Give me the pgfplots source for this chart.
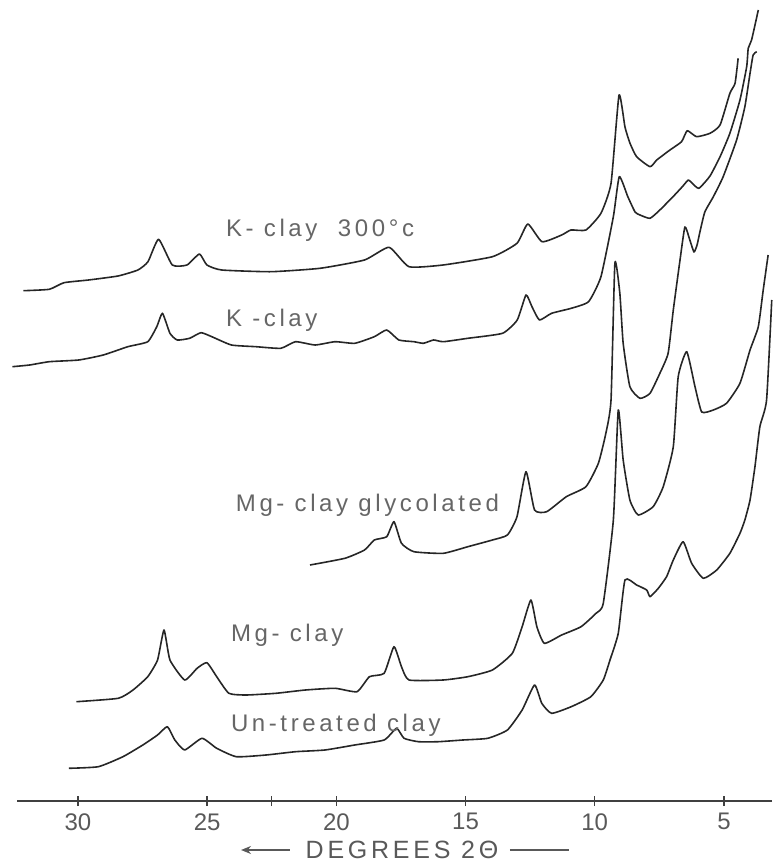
\documentclass[border=0pt]{standalone}
\usepackage{pgfplots}
\pgfplotsset{compat=1.18}
\usepackage{fontspec}
\setmainfont{Liberation Sans}
\newfontfamily\lab[LetterSpace=15]{Liberation Sans}
\usetikzlibrary{arrows.meta}
\begin{document}
\begin{tikzpicture}
\useasboundingbox (-8.5pt,-33pt) rectangle (377.5pt,400.5pt);
\begin{axis}[
 scale only axis, width=377.5pt, height=400.5pt,
 at={(0,0)}, anchor=south west,
 xmin=3.14, xmax=32.36, x dir=reverse,
 ymin=0, ymax=801,
 clip=false,
 hide y axis,
 axis x line*=bottom,
 x axis line style={-, line width=0.7pt, draw=black!75},
 xtick={5,10,15,20,22.5,25,30},
 xticklabels={5,10,15,20,,25,30},
 xtick align=center,
 major tick length=5pt,
 xtick style={line width=0.7pt, draw=black!75},
 xticklabel style={font=\fontsize{12}{12}\selectfont, text=black!65, anchor=north, inner sep=0pt, yshift=-3.5pt},
 curve/.style={line width=0.8pt, draw=black!85, line join=round, smooth, tension=0.3, mark=none},
]
% K-clay 300 C
\addplot[curve] coordinates {(32.11,510.3) (31.11,511.7) (30.54,518.3) (29.59,521) (28.45,525) (27.68,531) (27.29,539.3) (26.88,561.7) (26.35,536) (25.78,536) (25.30,547) (25.01,536) (24.44,531) (22.53,529.3) (20.63,532.7) (18.91,541) (17.96,553.7) (17.19,534.3) (15.87,536) (13.96,544.3) (13.01,557.7) (12.59,577) (12.04,559.3) (11.28,566) (10.92,571) (10.34,571) (9.76,587.7) (9.37,617.7) (9.06,706) (8.83,674) (8.64,658) (8.38,644.3) (7.86,634.3) (7.60,641) (7.09,651) (6.64,659.3) (6.42,670.3) (6.06,664.3) (5.54,667.7) (5.15,676) (4.77,707.7) (4.57,717.7) (4.45,742.7)};
% K-clay
\addplot[curve] coordinates {(32.54,434.3) (31.87,436) (31.11,439.3) (29.97,441) (29.02,446) (28.07,454.3) (27.30,459.3) (26.95,474.3) (26.73,487.7) (26.44,467.7) (26.16,461) (25.68,462.7) (25.24,468.3) (24.82,464.3) (24.06,456) (23.11,454.3) (22.15,452.7) (21.58,459.3) (20.82,456) (20.05,459.3) (19.29,457.7) (18.53,464.3) (18.05,471) (17.58,461) (17.00,459.3) (16.63,457.7) (16.24,461) (15.86,459.3) (14.91,462.7) (13.57,467.7) (13.00,481) (12.66,506) (12.43,494.3) (12.14,481) (11.67,487.7) (10.91,492.7) (10.24,499.3) (9.76,524.3) (9.28,584.3) (9.05,624.3) (8.72,604.3) (8.44,589) (8.25,586) (7.86,582.7) (7.48,591) (6.97,604.3) (6.61,614.3) (6.38,621) (6.24,618) (5.97,612.7) (5.54,625) (5.15,644.3) (4.77,667.7) (4.38,701) (4.12,734.3) (4.06,752.7) (3.93,761) (3.67,791)};
% Mg-clay glycolated
\addplot[curve] coordinates {(21.02,236) (19.67,242.7) (18.91,251) (18.53,261) (18.05,264.3) (17.77,279.3) (17.48,257.7) (17.00,249.3) (15.86,247.7) (14.91,254.3) (13.96,261) (13.38,266) (13.01,284.3) (12.66,329.3) (12.33,291) (11.86,289.3) (11.10,304.3) (10.34,314.3) (9.86,337.7) (9.57,367.7) (9.37,401) (9.22,538) (9.03,508) (8.90,457.7) (8.64,414.3) (8.25,402.7) (7.86,407.7) (7.48,427.7) (7.16,447.7) (6.96,491) (6.70,541) (6.51,574) (6.32,561) (6.16,549) (6.04,556) (5.93,569) (5.74,589) (5.41,604.3) (5.03,624.3) (4.51,661) (4.19,694.3) (3.99,727.7) (3.87,746) (3.73,749.3)};
% Mg-clay
\addplot[curve] coordinates {(30.06,99.3) (28.44,102.7) (27.87,111) (27.30,124.3) (26.92,141) (26.67,171) (26.44,141) (25.87,121) (25.39,132.7) (25.01,138.3) (24.63,124.3) (24.16,107.7) (23.49,106) (22.34,107.7) (21.20,111) (20.05,112.7) (19.20,109.3) (18.72,124.3) (18.15,127.7) (17.77,154.3) (17.48,134.3) (17.19,121) (15.86,121) (14.91,124.3) (13.96,131) (13.19,147.7) (12.81,174.3) (12.47,201) (12.24,174.3) (11.95,157.7) (11.28,166) (10.53,174.3) (9.95,187.7) (9.67,197.7) (9.28,281) (9.09,391) (8.90,341) (8.64,301) (8.32,286) (7.74,294.3) (7.35,314.3) (6.96,354.3) (6.77,424.3) (6.44,449.3) (6.12,414.3) (5.86,389) (5.41,391) (4.90,397.7) (4.38,417.7) (3.99,451) (3.67,474.3) (3.48,511) (3.29,546)};
% Un-treated clay
\addplot[curve] coordinates {(30.35,32.7) (29.21,34.3) (28.26,44.3) (27.49,56) (26.92,66) (26.54,74.3) (26.25,61) (25.87,51) (25.20,62.7) (24.63,52.7) (23.87,44.3) (22.72,46) (21.58,49.3) (20.44,51) (19.29,56) (18.15,61) (17.67,72.7) (17.38,62.7) (16.82,59.3) (16.05,59.3) (15.10,61) (14.14,62.7) (13.38,71) (12.81,91) (12.33,116) (12.05,97.7) (11.67,87.7) (10.91,94.3) (10.15,104.3) (9.67,121) (9.41,141) (9.09,167.7) (8.83,221) (8.38,216) (7.99,211) (7.86,204.3) (7.54,212.7) (7.22,224.3) (6.96,241) (6.58,259.3) (6.25,237.7) (5.80,222.7) (5.28,231) (4.77,247.7) (4.38,267.7) (4.19,281) (3.99,301) (3.80,334.3) (3.61,374.3) (3.35,401) (3.15,501)};
% labels
\node[anchor=west, font=\lab\fontsize{12}{12}\selectfont, text=black!60] at (axis cs:24.54,571) {K- clay\ \ 300°c};
\node[anchor=west, font=\lab\fontsize{12}{12}\selectfont, text=black!60] at (axis cs:24.54,481) {K -clay};
\node[anchor=west, font=\lab\fontsize{12}{12}\selectfont, text=black!60] at (axis cs:24.16,296) {Mg- clay glycolated};
\node[anchor=west, font=\lab\fontsize{12}{12}\selectfont, text=black!60] at (axis cs:24.35,166) {Mg- clay};
\node[anchor=west, font=\lab\fontsize{12}{12}\selectfont, text=black!60] at (axis cs:24.35,76) {Un-treated\ clay};
% axis title
\node[font=\lab\fontsize{12.5}{12.5}\selectfont, text=black!65] at ([yshift=-24.5pt]axis cs:17.46,0) {DEGREES 2Θ};
\draw[black!65, line width=0.7pt, -{Stealth[length=5pt,width=4pt]}] ([yshift=-24.5pt]axis cs:21.80,0) -- ([yshift=-24.5pt]axis cs:23.69,0);
\draw[black!65, line width=0.7pt] ([yshift=-24.5pt]axis cs:13.28,0) -- ([yshift=-24.5pt]axis cs:11.00,0);
\end{axis}
\end{tikzpicture}
\end{document}
